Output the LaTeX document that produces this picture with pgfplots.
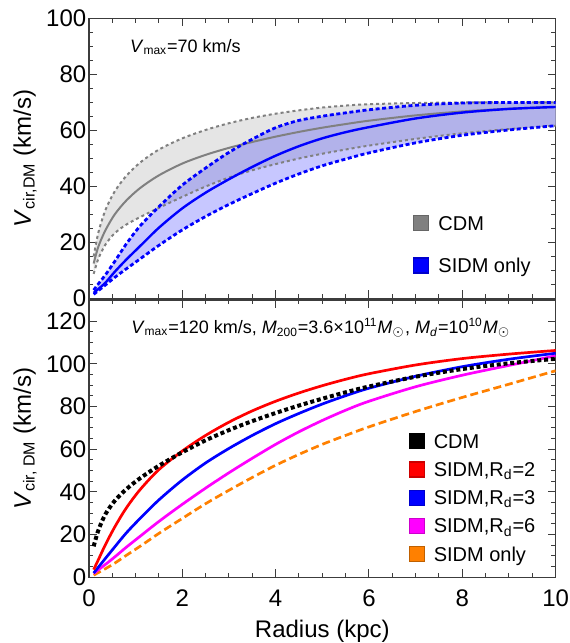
\documentclass[border=0pt]{standalone}
\usepackage{fontspec}
\setmainfont{Liberation Sans}
\usepackage{pgfplots}
\usepackage{pgfplotstable}
\pgfplotsset{compat=1.18}
\usepgfplotslibrary{fillbetween}
\definecolor{cGray}{RGB}{128,128,128}
\definecolor{cGrayFill}{RGB}{229,229,229}
\definecolor{cBlue}{RGB}{0,0,255}
\definecolor{cRed}{RGB}{255,0,0}
\definecolor{cMag}{RGB}{255,0,255}
\definecolor{cOrange}{RGB}{255,128,0}
\definecolor{cFrame}{RGB}{60,60,60}

% top panel: r, CDM upper/median/lower, SIDM upper/median/lower
\pgfplotstableread{
r    cu    cm    cl    su    sm    sl
0.1  15    12.5  8.8   3     2     1.5
0.2  23.5  18.5  14.2  5.2   3.4   2.8
0.35 31.5  24.3  19.2  8.4   5.6   4.8
0.55 38.2  30    23.3  13.2  9.5   7.5
0.8  43.8  35    26.4  19.5  13.9  10.6
1.1  48.6  39.5  29.1  26    18.8  14.2
1.5  53.2  44    32.4  32.8  25.3  19
2.0  57.2  48.2  36.3  40.5  32.2  24.5
2.5  60.2  51.3  40    46.6  37.8  29.3
3.0  62.6  53.8  43.2  52.2  42.6  33.6
3.5  64.5  55.9  45.8  56.9  47    37.5
4.0  66    57.8  48    61    51    41.2
4.5  67.2  59.5  50    63.6  54.4  44.5
5.0  68.2  61    51.7  65.1  57.2  47.4
5.5  68.9  62.3  53.2  66.3  59.4  49.8
6.0  69.4  63.5  54.6  67.4  61.2  52
7.0  69.8  65.4  57    69    64.3  55.6
8.0  70    66.8  59    69.8  66.4  58.3
9.0  70    67.8  60.5  70    67.7  60.2
10   70    68.4  61.7  70    68.4  61.7
}\toptab

% bottom panel: r, CDM, SIDM Rd=2, Rd=3, Rd=6, SIDM only
\pgfplotstableread{
r    cdm   rtwo  rthree rsix  only
0.1  14.5  3.6   2      1.8   1
0.2  22    8.2   4.7    3.5   2.2
0.35 29.5  15.2  8.8    6     4
0.55 35.8  23.5  14.2   9.5   6.6
0.8  41.3  32.5  20.8   14.1  10.3
1.1  46.5  41.2  27.7   19.3  14.6
1.5  52.3  50.5  36.3   26.2  20.6
2.0  58.6  59.2  45.6   34.2  27.6
2.5  64.2  66.5  53.6   41.8  34.5
3.0  69    72.7  60.4   49    40.8
3.5  73.2  78    66.5   55.8  46.8
4.0  77    82.5  72     62.3  52.5
4.5  80.5  86.4  76.8   68.2  57.6
5.0  83.7  89.8  81.2   73.5  62.3
5.5  86.7  92.8  85.1   78.3  66.5
6.0  89.4  95.4  88.6   82.5  70.5
7.0  94    99.5  94.2   89.3  77.7
8.0  97.6  102.5 98.7   94.7  84.3
9.0  100.3 104.6 102.2  99.3  90.5
10   102.4 106.3 105    103.8 96.8
}\bottab

\pgfplotsset{panel/.style={
  scale only axis, width=233.3pt, xmin=0, xmax=10, xtick={0,2,...,10},
  minor x tick num=3, minor y tick num=3, tick align=inside,
  major tick length=4pt, minor tick length=2.2pt,
  axis line style={cFrame,line width=0.6pt},
  every tick/.style={cFrame,line width=0.5pt},
  tick label style={font=\fontsize{12}{12}\selectfont},
  /pgf/number format/assume math mode=true,
  yticklabel style={inner xsep=0pt,xshift=-1.2pt},
  label style={font=\fontsize{12}{14}\selectfont},
  ylabel style={at={(axis description cs:-0.137,0.5)},anchor=center},
  legend cell align=left,
  legend image code/.code={\draw[#1,line width=0.6pt] (0pt,-3.75pt) rectangle (7.5pt,3.75pt);},
}}

\begin{document}
\begin{tikzpicture}
\begin{axis}[panel, at={(0pt,0pt)}, anchor=south west, height=138.7pt,
  ymin=0, ymax=130, ytick={0,20,...,120},
  xticklabel style={anchor=center,yshift=-10.3pt},
  xlabel={Radius (kpc)}, xlabel style={at={(axis description cs:0.5,0)},anchor=center,yshift=-26.9pt},
  ylabel={\textit{V}\textsubscript{cir, DM} (km/s)},
  legend style={at={(0.684,0.521)},anchor=north west,draw=none,fill=none,inner sep=0pt,
    row sep=6pt,column sep=4.5pt,font=\fontsize{10}{12}\selectfont,nodes={inner sep=0pt,text depth=0pt}}]
  \addplot[smooth,cOrange,line width=1.35pt,dash pattern=on 4pt off 2pt,forget plot] table[x=r,y=only] {\bottab};
  \addplot[smooth,cMag,line width=1.35pt,forget plot] table[x=r,y=rsix] {\bottab};
  \addplot[smooth,cBlue,line width=1.35pt,forget plot] table[x=r,y=rthree] {\bottab};
  \addplot[smooth,cRed,line width=1.35pt,forget plot] table[x=r,y=rtwo] {\bottab};
  \addplot[smooth,black,line width=2pt,dash pattern=on 2pt off 1.4pt,forget plot] table[x=r,y=cdm] {\bottab};
  \addlegendimage{fill=black,draw=black}
  \addlegendentry{CDM}
  \addlegendimage{fill=cRed,draw=cRed!80!black}
  \addlegendentry{SIDM,R\textsubscript{d}=2}
  \addlegendimage{fill=cBlue,draw=cBlue!80!black}
  \addlegendentry{SIDM,R\textsubscript{d}=3}
  \addlegendimage{fill=cMag,draw=cMag!80!black}
  \addlegendentry{SIDM,R\textsubscript{d}=6}
  \addlegendimage{fill=cOrange,draw=cOrange!75!black}
  \addlegendentry{SIDM only}
  \node[font=\fontsize{9}{11}\selectfont] at (axis description cs:0.497,0.90)
    {\textit{V}\textsubscript{max}=120 km/s, \textit{M}\textsubscript{200}=3.6×10\textsuperscript{11}\textit{M}\textsubscript{$\odot$}, \textit{M}\textsubscript{\textit{d}}=10\textsuperscript{10}\textit{M}\textsubscript{$\odot$}};
\end{axis}

\begin{axis}[panel, at={(0pt,139.4pt)}, anchor=south west, height=140pt,
  ymin=0, ymax=100, ytick={0,20,...,100}, xticklabels={},
  ylabel={\textit{V}\textsubscript{cir,DM} (km/s)},
  legend style={at={(0.694,0.299)},anchor=north west,draw=none,fill=none,inner sep=0pt,
    row sep=13pt,column sep=4.5pt,font=\fontsize{10}{12}\selectfont,nodes={inner sep=0pt,text depth=0pt}}]
  \addplot[smooth,draw=none,name path=cu,forget plot] table[x=r,y=cu] {\toptab};
  \addplot[smooth,draw=none,name path=cl,forget plot] table[x=r,y=cl] {\toptab};
  \addplot[cGrayFill,forget plot] fill between[of=cu and cl];
  \addplot[smooth,cGray,line width=1pt,dash pattern=on 1.5pt off 1.5pt,forget plot] table[x=r,y=cu] {\toptab};
  \addplot[smooth,cGray,line width=1pt,dash pattern=on 1.5pt off 1.5pt,forget plot] table[x=r,y=cl] {\toptab};
  \addplot[smooth,cGray,line width=1pt,forget plot] table[x=r,y=cm] {\toptab};
  \addplot[smooth,draw=none,name path=su,forget plot] table[x=r,y=su] {\toptab};
  \addplot[smooth,draw=none,name path=sl,forget plot] table[x=r,y=sl] {\toptab};
  \addplot[cBlue,fill opacity=0.22,forget plot] fill between[of=su and sl];
  \addplot[smooth,cBlue,line width=1.4pt,dash pattern=on 2pt off 1.3pt,forget plot] table[x=r,y=su] {\toptab};
  \addplot[smooth,cBlue,line width=1.4pt,dash pattern=on 2pt off 1.3pt,forget plot] table[x=r,y=sl] {\toptab};
  \addplot[smooth,cBlue,line width=1.2pt,forget plot] table[x=r,y=sm] {\toptab};
  \addlegendimage{fill=cGray,draw=black!60}
  \addlegendentry{CDM}
  \addlegendimage{fill=cBlue,draw=cBlue!80!black}
  \addlegendentry{SIDM only}
  \node[anchor=west,font=\fontsize{9}{11}\selectfont] at (axis description cs:0.073,0.897)
    {\textit{V}\textsubscript{max}=70 km/s};
\end{axis}
\pgfresetboundingbox
\path (-44.5pt,-32.85pt) rectangle (240pt,288.65pt);
\end{tikzpicture}
\end{document}
